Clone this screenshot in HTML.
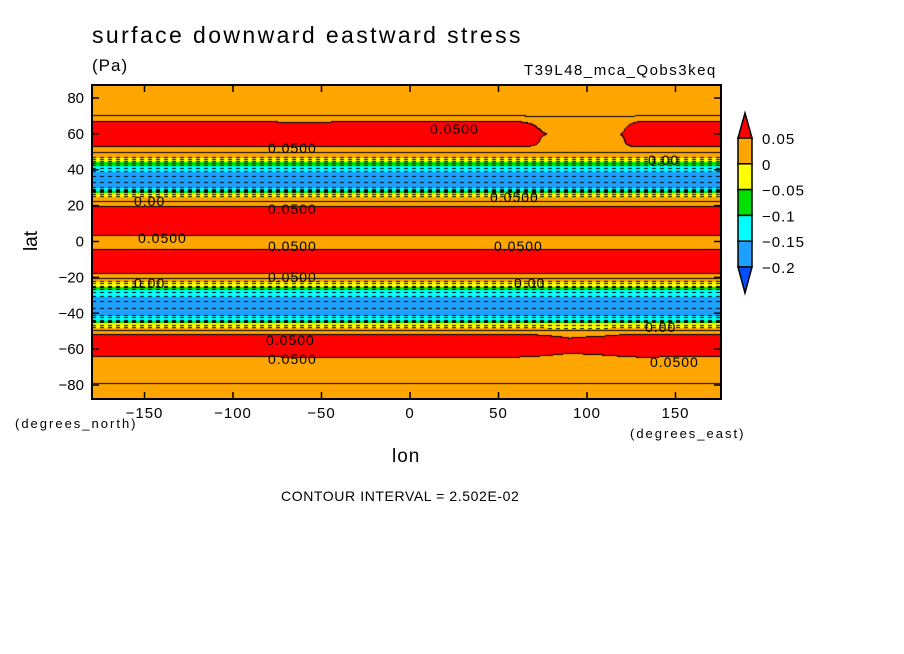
<!DOCTYPE html>
<html><head><meta charset="utf-8"><style>
body{margin:0;background:#fff;width:904px;height:654px;overflow:hidden;position:relative;font-family:"Liberation Sans",sans-serif}
.t{position:absolute;white-space:nowrap;color:#000}
</style></head><body>
<div class="t" style="left:92px;top:22px;font-size:23px;letter-spacing:2.4px">surface downward eastward stress</div>
<div class="t" style="left:92px;top:56px;font-size:17px;letter-spacing:1px">(Pa)</div>
<div class="t" style="left:524px;top:62px;font-size:15px;letter-spacing:1.5px">T39L48_mca_Qobs3keq</div>
<canvas id="cv" width="904" height="654" style="position:absolute;left:0;top:0"></canvas>
<svg id="sv" width="904" height="654" style="position:absolute;left:0;top:0"></svg>
<div class="t" style="left:15px;top:416px;font-size:13px;letter-spacing:2px">(degrees_north)</div>
<div class="t" style="left:630px;top:426px;font-size:13px;letter-spacing:2px">(degrees_east)</div>
<div class="t" style="left:392px;top:446px;font-size:19px;letter-spacing:1px">lon</div>
<div class="t" style="left:22px;top:230px;font-size:19px;transform:rotate(-90deg)">lat</div>
<div class="t" style="left:281px;top:488px;font-size:14px;letter-spacing:0.6px">CONTOUR INTERVAL = 2.502E-02</div>
<script>
const profLat=[88,70,67,60,53,50,47,44.5,42.3,39,35,31,30,28.4,27.3,25,22,19,12,4,0,-4.4,-10,-18,-20,-22.2,-25,-26.8,-30.4,-35,-40,-41,-43.8,-45.4,-48.2,-50,-52,-58,-64,-70,-88];
const profVal=[0.02,0.025,0.05,0.07,0.052,0.03,0,-0.05,-0.1,-0.15,-0.19,-0.16,-0.15,-0.1,-0.05,0,0.03,0.052,0.07,0.052,0.04,0.05,0.07,0.051,0.03,0,-0.05,-0.1,-0.15,-0.19,-0.16,-0.15,-0.1,-0.05,0,0.03,0.05,0.07,0.05,0.03,0.02];
const modLon=[-180,-120,-60,0,60,90,110,130,180];
const nhMod=[0,0,-0.005,0,0,-0.035,-0.035,0,0];
const shMod=[0,0,0.005,0.005,0.005,-0.01,-0.005,0.005,0];
const levels=[-0.2,-0.15,-0.1,-0.05,0,0.05];
const colors=['#0050ff','#1ea0ff','#00ffff','#00e000','#ffff00','#ffa500','#ff0000'];
const latTicks=[80,60,40,20,0,-20,-40,-60,-80];
const lonTicks=[-150,-100,-50,0,50,100,150];
const cbLabels=['0.05','0','\u22120.05','\u22120.1','\u22120.15','\u22120.2'];
const X0=92,X1=721,Y0=85,Y1=399;
const lonX=l=>410+l*1.77, latY=l=>241.5-l*1.794;
const xLon=x=>(x-410)/1.77, yLat=y=>(241.5-y)/1.794;
function interp(xs,ys,x){
 const dec=xs[0]>xs[xs.length-1];
 for(let i=0;i<xs.length-1;i++){const a=xs[i],b=xs[i+1];
  if(dec?(x<=a&&x>=b):(x>=a&&x<=b)){return ys[i]+(ys[i+1]-ys[i])*(x-a)/(b-a);}}
 return dec?(x>xs[0]?ys[0]:ys[ys.length-1]):(x<xs[0]?ys[0]:ys[ys.length-1]);}
function field(lon,lat){
 let v=interp(profLat,profVal,lat);
 v+=interp(modLon,nhMod,lon)*Math.exp(-Math.pow((lat-60)/6,2));
 v+=interp(modLon,shMod,lon)*Math.exp(-Math.pow((lat+58)/6,2));
 return v;}
const cv=document.getElementById('cv'),ctx=cv.getContext('2d');
const W=X1-X0,H=Y1-Y0;
const img=ctx.createImageData(W,H);
const ci=[],li=[];
function hex(c){return[parseInt(c.slice(1,3),16),parseInt(c.slice(3,5),16),parseInt(c.slice(5,7),16)];}
const rgb=colors.map(hex);
for(let y=0;y<H;y++){const lat=yLat(Y0+y);for(let x=0;x<W;x++){const v=field(xLon(X0+x),lat);
 let k=0;while(k<levels.length&&v>=levels[k])k++;ci[y*W+x]=k;li[y*W+x]=Math.floor(v/0.025+1e-9);}}
for(let y=0;y<H;y++)for(let x=0;x<W;x++){const i=y*W+x;let c=rgb[ci[i]];
 const l=li[i];let edge=false,neg=false;
 if(y+1<H&&li[i+W]!==l){edge=true;neg=Math.max(l,li[i+W])<=0;}
 if(x+1<W&&li[i+1]!==l){edge=true;neg=Math.max(l,li[i+1])<=0;}
 if(edge&&(!neg||(x%8)<4))c=[0,0,0];
 img.data[i*4]=c[0];img.data[i*4+1]=c[1];img.data[i*4+2]=c[2];img.data[i*4+3]=255;}
ctx.putImageData(img,X0,Y0);
const NS='http://www.w3.org/2000/svg',sv=document.getElementById('sv');
function el(t,a,txt){const e=document.createElementNS(NS,t);for(const k in a)e.setAttribute(k,a[k]);if(txt!==undefined)e.textContent=txt;sv.appendChild(e);return e;}
let e=el('rect',{x:X0,y:Y0,width:W,height:H,fill:'none',stroke:'#000','stroke-width':2});


latTicks.forEach(t=>{const y=latY(t);
 el('line',{x1:X0,x2:X0+7,y1:y,y2:y,stroke:'#000','stroke-width':1.5});
 el('line',{x1:X1-7,x2:X1,y1:y,y2:y,stroke:'#000','stroke-width':1.5});
 const tx=el('text',{x:84,y:y+5,'text-anchor':'end','font-size':15,'font-family':'Liberation Sans'},String(t).replace('-','\u2212'));
 
 });
lonTicks.forEach(t=>{const x=lonX(t);
 el('line',{x1:x,x2:x,y1:Y1-7,y2:Y1,stroke:'#000','stroke-width':1.5});
 el('line',{x1:x,x2:x,y1:Y0,y2:Y0+7,stroke:'#000','stroke-width':1.5});
 const tx=el('text',{x:x,y:418,'text-anchor':'middle','font-size':15,'font-family':'Liberation Sans','letter-spacing':1},String(t).replace('-','\u2212'));
 
 });
[[430,134,'0.0500'],[268,153,'0.0500'],[134,206,'0.00'],[268,214,'0.0500'],[138,243,'0.0500'],[268,251,'0.0500'],[494,251,'0.0500'],[490,202,'0.0500'],[134,288,'0.00'],[268,282,'0.0500'],[514,288,'0.00'],[645,332,'0.00'],[266,345,'0.0500'],[268,364,'0.0500'],[648,165,'0.00'],[650,367,'0.0500']].forEach(d=>{
 const tx=el('text',{x:d[0],y:d[1],'font-size':14,'font-family':'Liberation Sans','letter-spacing':1},d[2]);
 
 });
const cbx=738,cbw=14,cbTop=138,cbStep=25.8;
const boxCols=colors.slice(1,6).reverse();
el('polygon',{points:`${cbx},${cbTop} ${cbx+cbw/2},${113} ${cbx+cbw},${cbTop}`,fill:colors[6],stroke:'#000','stroke-width':1.5});
boxCols.forEach((c,i)=>{const r=el('rect',{x:cbx,y:cbTop+i*cbStep,width:cbw,height:cbStep,fill:c,stroke:'#000','stroke-width':1.5});
 
 });
const yb=cbTop+5*cbStep;
el('polygon',{points:`${cbx},${yb} ${cbx+cbw/2},${293} ${cbx+cbw},${yb}`,fill:colors[0],stroke:'#000','stroke-width':1.5});
cbLabels.forEach((s,i)=>{const tx=el('text',{x:762,y:cbTop+i*cbStep+6,'font-size':15,'font-family':'Liberation Sans','letter-spacing':1},s);
 
 });
</script>
</body></html>
